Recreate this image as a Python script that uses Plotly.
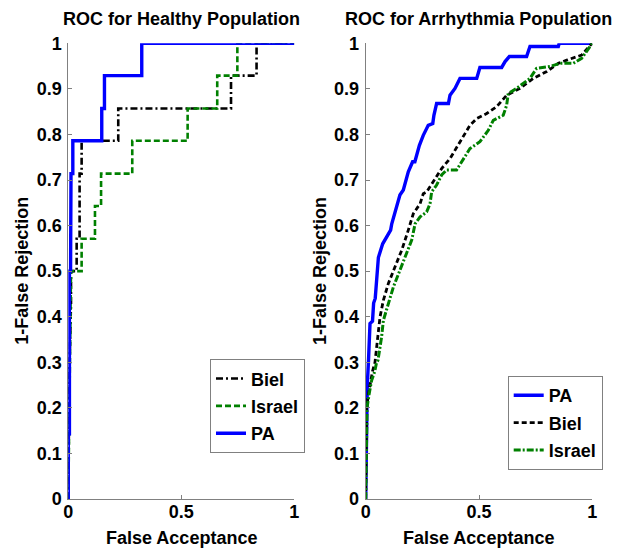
import plotly.graph_objects as go

# ---------------- data ----------------
# Healthy population (left)
h_pa_x = [0, 0, 0.005, 0.005, 0.01, 0.01, 0.012, 0.02, 0.02, 0.148, 0.148, 0.16, 0.16, 0.325, 0.325, 1.0]
h_pa_y = [0, 0.143, 0.143, 0.5, 0.5, 0.571, 0.714, 0.714, 0.786, 0.786, 0.857, 0.857, 0.929, 0.929, 1.0, 1.0]

h_biel_x = [0, 0.005, 0.012, 0.012, 0.037, 0.037, 0.05, 0.05, 0.059, 0.059, 0.221, 0.221, 0.72, 0.72, 0.833, 0.833, 1.0]
h_biel_y = [0, 0.286, 0.429, 0.5, 0.5, 0.571, 0.571, 0.714, 0.714, 0.786, 0.786, 0.857, 0.857, 0.929, 0.929, 1.0, 1.0]

h_isr_x = [0, 0.005, 0.012, 0.059, 0.059, 0.118, 0.118, 0.145, 0.145, 0.283, 0.283, 0.528, 0.528, 0.659, 0.659, 0.748, 0.748, 1.0]
h_isr_y = [0, 0.286, 0.5, 0.5, 0.571, 0.571, 0.643, 0.643, 0.714, 0.714, 0.786, 0.786, 0.857, 0.857, 0.929, 0.929, 1.0, 1.0]

# Arrhythmia population (right)
a_pa_x = [0, 0.003, 0.004, 0.007, 0.012, 0.016, 0.019, 0.03, 0.035, 0.042, 0.05, 0.056, 0.075, 0.11,
          0.115, 0.151, 0.166, 0.188, 0.207, 0.217, 0.237, 0.254, 0.276, 0.296, 0.301, 0.313, 0.365,
          0.372, 0.394, 0.416, 0.490, 0.504, 0.600, 0.615, 0.634, 0.710, 0.725, 0.850, 0.854, 1.0]
a_pa_y = [0, 0.1, 0.2, 0.25, 0.3, 0.36, 0.385, 0.39, 0.43, 0.44, 0.5, 0.53, 0.56, 0.59,
          0.604, 0.667, 0.678, 0.718, 0.740, 0.740, 0.776, 0.798, 0.820, 0.824, 0.842, 0.868, 0.868,
          0.886, 0.901, 0.923, 0.923, 0.947, 0.947, 0.960, 0.971, 0.971, 0.993, 0.993, 1.0, 1.0]

a_biel_x = [0, 0.004, 0.012, 0.019, 0.03, 0.041, 0.048, 0.056, 0.063, 0.078, 0.10, 0.129, 0.159, 0.188,
            0.21, 0.24, 0.254, 0.269, 0.298, 0.335, 0.372, 0.416, 0.46, 0.49, 0.534, 0.578, 0.622,
            0.681, 0.74, 0.799, 0.85, 0.887, 0.953, 0.99, 1.0]
a_biel_y = [0, 0.2, 0.23, 0.25, 0.28, 0.3, 0.333, 0.363, 0.399, 0.436, 0.473, 0.509, 0.546, 0.590,
            0.626, 0.648, 0.670, 0.674, 0.696, 0.725, 0.747, 0.784, 0.820, 0.835, 0.846, 0.861, 0.886,
            0.901, 0.923, 0.938, 0.956, 0.963, 0.974, 0.995, 1.0]

a_isr_x = [0, 0.006, 0.015, 0.026, 0.04, 0.048, 0.054, 0.063, 0.07, 0.078, 0.10, 0.122, 0.151, 0.173,
           0.203, 0.218, 0.240, 0.269, 0.284, 0.291, 0.313, 0.335, 0.357, 0.401, 0.431, 0.46, 0.504,
           0.541, 0.563, 0.607, 0.622, 0.629, 0.666, 0.725, 0.754, 0.813, 0.857, 0.916, 0.953, 0.99, 1.0]
a_isr_y = [0, 0.2, 0.23, 0.26, 0.28, 0.3, 0.304, 0.333, 0.355, 0.392, 0.429, 0.465, 0.502, 0.531,
           0.568, 0.604, 0.619, 0.630, 0.648, 0.674, 0.689, 0.711, 0.722, 0.722, 0.747, 0.769, 0.784,
           0.809, 0.831, 0.842, 0.864, 0.890, 0.901, 0.923, 0.945, 0.949, 0.956, 0.956, 0.967, 0.995, 1.0]

titles = ["ROC for Healthy Population", "ROC for Arrhythmia Population"]
x_label = "False Acceptance"
y_label = "1-False Rejection"
x_ticks = [0, 0.5, 1]
x_ticktext = ["0", "0.5", "1"]
y_ticks = [0, 0.1, 0.2, 0.3, 0.4, 0.5, 0.6, 0.7, 0.8, 0.9, 1.0]
y_ticktext = ["0", "0.1", "0.2", "0.3", "0.4", "0.5", "0.6", "0.7", "0.8", "0.9", "1"]

# ---------------- styling ----------------
W, H = 629, 549
FONT = "Liberation Sans, Arial, sans-serif"
BLUE = "rgb(0,0,255)"
GREEN = "rgb(0,128,0)"
BLACK = "rgb(0,0,0)"

def px_x(p):
    return p / W

def px_y(p):
    return 1 - p / H

L_dom = [px_x(68.3), px_x(294.3)]
R_dom = [px_x(365.7), px_x(592.3)]
Y_dom = [px_y(499.0), px_y(43.3)]

fig = go.Figure()

# left panel (legend order: Biel, Israel, PA)
fig.add_trace(go.Scatter(x=h_biel_x, y=h_biel_y, mode="lines", name="Biel", xaxis="x", yaxis="y",
                         line=dict(color=BLACK, width=2.6, dash="7px,3px,2px,3px"),
                         legend="legend", legendgroup="hb"))
fig.add_trace(go.Scatter(x=h_isr_x, y=h_isr_y, mode="lines", name="Israel", xaxis="x", yaxis="y",
                         line=dict(color=GREEN, width=2.6, dash="6px,3px"),
                         legend="legend", legendgroup="hi"))
fig.add_trace(go.Scatter(x=h_pa_x, y=h_pa_y, mode="lines", name="PA", xaxis="x", yaxis="y",
                         line=dict(color=BLUE, width=3.4),
                         legend="legend", legendgroup="hp"))

# right panel (legend order: PA, Biel, Israel)
fig.add_trace(go.Scatter(x=a_pa_x, y=a_pa_y, mode="lines", name="PA", xaxis="x2", yaxis="y2",
                         line=dict(color=BLUE, width=3.4),
                         legend="legend2", legendgroup="ap"))
fig.add_trace(go.Scatter(x=a_biel_x, y=a_biel_y, mode="lines", name="Biel", xaxis="x2", yaxis="y2",
                         line=dict(color=BLACK, width=2.8, dash="5px,3px"),
                         legend="legend2", legendgroup="ab"))
fig.add_trace(go.Scatter(x=a_isr_x, y=a_isr_y, mode="lines", name="Israel", xaxis="x2", yaxis="y2",
                         line=dict(color=GREEN, width=3.0, dash="7px,2px,2px,2px"),
                         legend="legend2", legendgroup="ai"))

axis_common = dict(
    range=[0, 1], showgrid=False, zeroline=False, showline=True, linecolor="rgb(128,128,128)",
    linewidth=1, ticks="inside", ticklen=4, tickcolor="rgb(128,128,128)",
    tickfont=dict(family=FONT, size=18, color="black", weight="bold"),
    mirror=False, fixedrange=True, automargin=False,
)

legend_common = dict(
    xanchor="left", yanchor="top", bgcolor="white", bordercolor="rgb(128,128,128)", borderwidth=1,
    font=dict(family=FONT, size=18, color="black", weight="bold"),
    traceorder="grouped", tracegroupgap=1, itemwidth=30,
)

fig.update_layout(
    template="none",
    width=W, height=H,
    margin=dict(l=0, r=0, t=0, b=0, autoexpand=False),
    paper_bgcolor="white", plot_bgcolor="white",
    font=dict(family=FONT, size=18, color="black"),
    xaxis=dict(domain=L_dom, anchor="y", tickvals=x_ticks, ticktext=x_ticktext, ticklabelstandoff=-4, **axis_common),
    yaxis=dict(domain=Y_dom, anchor="x", tickvals=y_ticks, ticktext=y_ticktext, ticklabelstandoff=2, **axis_common),
    xaxis2=dict(domain=R_dom, anchor="y2", tickvals=x_ticks, ticktext=x_ticktext, ticklabelstandoff=-4, **axis_common),
    yaxis2=dict(domain=Y_dom, anchor="x2", tickvals=y_ticks, ticktext=y_ticktext, ticklabelstandoff=2, **axis_common),
    legend=dict(x=px_x(210), y=px_y(359.3), entrywidth=58, **legend_common),
    legend2=dict(x=px_x(507.7), y=px_y(376), entrywidth=58, **legend_common),
    showlegend=True,
)

ann_font = dict(family=FONT, size=18, color="black", weight="bold")
annotations = [
    dict(text=titles[0], x=(L_dom[0] + L_dom[1]) / 2, y=px_y(19), xref="paper", yref="paper",
         xanchor="center", yanchor="middle", showarrow=False, font=ann_font),
    dict(text=titles[1], x=(R_dom[0] + R_dom[1]) / 2, y=px_y(19), xref="paper", yref="paper",
         xanchor="center", yanchor="middle", showarrow=False, font=ann_font),
    dict(text=x_label, x=(L_dom[0] + L_dom[1]) / 2, y=px_y(538), xref="paper", yref="paper",
         xanchor="center", yanchor="middle", showarrow=False, font=ann_font),
    dict(text=x_label, x=(R_dom[0] + R_dom[1]) / 2, y=px_y(538), xref="paper", yref="paper",
         xanchor="center", yanchor="middle", showarrow=False, font=ann_font),
    dict(text=y_label, x=px_x(21.7), y=px_y(271), xref="paper", yref="paper", textangle=-90,
         xanchor="center", yanchor="middle", showarrow=False, font=ann_font),
    dict(text=y_label, x=px_x(320), y=px_y(271), xref="paper", yref="paper", textangle=-90,
         xanchor="center", yanchor="middle", showarrow=False, font=ann_font),
]
fig.update_layout(annotations=annotations)

fig.write_html("out.html")
